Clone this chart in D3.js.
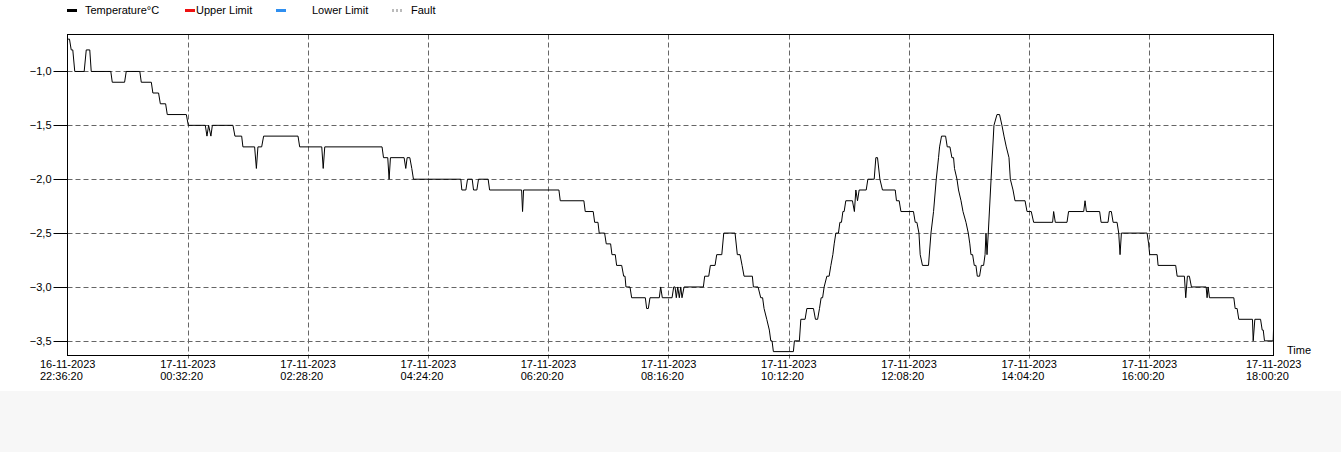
<!DOCTYPE html>
<html>
<head>
<meta charset="utf-8">
<script src="https://cdn.jsdelivr.net/npm/d3@7"></script>
<style>
  html, body { margin: 0; padding: 0; background: #ffffff; }
  svg { display: block; }
  text { font-family: "Liberation Sans", Arial, sans-serif; font-size: 11px; fill: #000; }
</style>
</head>
<body>
<svg id="chart" width="1341" height="452"></svg>
<script>
// ---------------- data ----------------
const startTime = "2023-11-16T22:36:20";
const endTime   = "2023-11-17T18:00:20";

// minutes elapsed since startTime
const elapsedMin = [
  0, 1.9, 3.6, 5.1, 7.0, 16.1, 18.1, 21.5, 22.9, 41.8, 43.2, 55.1, 56.7, 69.8, 71.2, 80.9,
  82.4, 87.9, 89.6, 94.7, 96.3, 114.7, 116.6, 133.0, 134.6, 136.2, 138.4, 139.8, 159.7, 161.6,
  168.1, 169.3, 180.6, 182.3, 183.8, 187.4, 189.3, 222.5, 224.1, 245.4, 246.8, 248.3, 303.6,
  305.0, 309.1, 310.4, 311.7, 324.9, 326.5, 327.8, 330.4, 332.3, 333.9, 379.6, 380.6, 384.5,
  386.1, 390.6, 391.9, 395.1, 396.7, 406.0, 407.4, 438.3, 439.2, 440.2, 474.3, 475.6, 498.4,
  499.7, 507.4, 508.8, 512.0, 513.2, 518.4, 520.0, 524.2, 525.5, 528.7, 530.0, 534.9, 536.8,
  538.1, 539.0, 542.9, 544.5, 557.7, 559.0, 560.6, 562.2, 571.2, 572.5, 574.1, 583.5, 585.1,
  586.4, 587.6, 589.0, 590.5, 591.9, 593.1, 595.1, 613.7, 615.0, 618.9, 620.5, 625.0, 626.6,
  631.5, 633.4, 644.3, 646.5, 649.1, 651.1, 653.0, 661.0, 662.0, 666.5, 669.1, 670.9, 672.3,
  674.9, 677.4, 678.8, 680.0, 681.3, 700.6, 701.6, 706.4, 707.8, 711.9, 713.6, 720.0, 721.9,
  724.0, 725.8, 727.4, 728.8, 730.3, 732.9, 735.1, 736.8, 738.7, 740.0, 741.6, 744.1, 745.5,
  747.0, 748.4, 749.6, 751.2, 757.6, 759.5, 760.9, 762.5, 764.1, 770.9, 772.5, 778.6, 780.2,
  781.8, 784.1, 786.6, 798.9, 800.1, 802.7, 804.4, 816.5, 818.2, 819.8, 821.8, 823.0, 825.2,
  831.0, 833.4, 835.9, 838.5, 840.7, 841.7, 843.6, 847.5, 849.1, 851.7, 853.6, 855.2, 856.1,
  858.5, 860.0, 862.4, 864.3, 867.2, 869.4, 870.9, 872.0, 873.6, 875.2, 876.8, 878.1, 880.3,
  882.0, 884.2, 885.6, 886.5, 887.5, 888.7, 891.4, 894.2, 897.1, 899.6, 901.9, 903.9, 906.1,
  908.7, 910.0, 912.6, 914.5, 924.2, 926.1, 930.2, 932.5, 950.8, 951.8, 953.4, 964.7, 966.2,
  980.8, 982.1, 983.4, 996.2, 997.6, 1004.3, 1005.6, 1007.5, 1009.2, 1013.0, 1014.6, 1015.9,
  1017.2, 1042.0, 1043.5, 1044.5, 1051.7, 1052.6, 1069.6, 1071.0, 1078.0, 1079.3, 1080.9,
  1082.8, 1084.8, 1099.0, 1099.9, 1100.9, 1102.2, 1125.7, 1127.0, 1128.9, 1130.5, 1143.7,
  1144.4, 1146.0, 1151.5, 1153.1, 1154.1, 1155.3, 1163.7, 1164.0
];

const tempC = [
  -0.7, -0.7, -0.8, -0.8, -1.0, -1.0, -0.8, -0.8, -1.0, -1.0, -1.1, -1.1, -1.0, -1.0, -1.1, -1.1,
  -1.2, -1.2, -1.3, -1.3, -1.4, -1.4, -1.5, -1.5, -1.6, -1.5, -1.6, -1.5, -1.5, -1.6,
  -1.6, -1.7, -1.7, -1.9, -1.7, -1.7, -1.6, -1.6, -1.7, -1.7, -1.9, -1.7, -1.7,
  -1.8, -1.8, -2.0, -1.8, -1.8, -1.9, -1.8, -1.8, -1.9, -2.0, -2.0, -2.1, -2.1,
  -2.0, -2.0, -2.1, -2.1, -2.0, -2.0, -2.1, -2.1, -2.3, -2.1, -2.1, -2.2, -2.2,
  -2.3, -2.3, -2.4, -2.4, -2.5, -2.5, -2.6, -2.6, -2.7, -2.7, -2.8, -2.8, -2.9,
  -2.9, -3.0, -3.0, -3.1, -3.1, -3.2, -3.2, -3.1, -3.1, -3.0, -3.1, -3.1, -3.0,
  -3.0, -3.1, -3.0, -3.1, -3.0, -3.1, -3.0, -3.0, -2.9, -2.9, -2.8, -2.8, -2.7,
  -2.7, -2.5, -2.5, -2.7, -2.7, -2.8, -2.9, -2.9, -3.0, -3.0, -3.1, -3.1, -3.2,
  -3.3, -3.4, -3.5, -3.5, -3.6, -3.6, -3.5, -3.5, -3.3, -3.3, -3.2, -3.2, -3.3,
  -3.3, -3.2, -3.1, -3.1, -3.0, -2.9, -2.9, -2.8, -2.7, -2.6, -2.5, -2.5, -2.4,
  -2.4, -2.3, -2.3, -2.2, -2.2, -2.3, -2.1, -2.2, -2.1, -2.1, -2.0, -2.0, -1.8,
  -1.8, -2.0, -2.1, -2.1, -2.2, -2.2, -2.3, -2.3, -2.4, -2.4, -2.5, -2.7, -2.8,
  -2.8, -2.5, -2.3, -2.0, -1.8, -1.7, -1.6, -1.6, -1.7, -1.7, -1.8, -1.8, -1.9,
  -2.0, -2.1, -2.2, -2.3, -2.4, -2.5, -2.6, -2.7, -2.7, -2.8, -2.8, -2.9, -2.9,
  -2.8, -2.8, -2.7, -2.5, -2.7, -2.5, -2.0, -1.5, -1.4, -1.4, -1.5, -1.6, -1.7,
  -1.8, -2.0, -2.1, -2.2, -2.2, -2.3, -2.3, -2.4, -2.4, -2.3, -2.4, -2.4, -2.3,
  -2.3, -2.2, -2.3, -2.3, -2.4, -2.4, -2.3, -2.3, -2.4, -2.4, -2.5, -2.7,
  -2.5, -2.5, -2.6, -2.7, -2.7, -2.8, -2.8, -2.9, -2.9, -3.1, -2.9,
  -2.9, -3.0, -3.0, -3.1, -3.0, -3.1, -3.1, -3.2, -3.2, -3.3, -3.3,
  -3.5, -3.3, -3.3, -3.4, -3.4, -3.5, -3.5, -3.4
];

const yTicks = [-1.0, -1.5, -2.0, -2.5, -3.0, -3.5];
const xTickTimes = [
  "2023-11-16T22:36:20", "2023-11-17T00:32:20", "2023-11-17T02:28:20", "2023-11-17T04:24:20",
  "2023-11-17T06:20:20", "2023-11-17T08:16:20", "2023-11-17T10:12:20", "2023-11-17T12:08:20",
  "2023-11-17T14:04:20", "2023-11-17T16:00:20", "2023-11-17T18:00:20"
];
const yDomain = [-3.636, -0.657];

const legendItems = ["Temperature°C", "Upper Limit", "Lower Limit", "Fault"];
const legendColors = ["#000000", "#ee1111", "#2f8ff0", "#bbbbbb"];

// ---------------- chart ----------------
const parse = d3.timeParse("%Y-%m-%dT%H:%M:%S");
const t0 = parse(startTime), t1 = parse(endTime);
const data = elapsedMin.map((m, i) => ({ t: new Date(t0.getTime() + m * 60000), v: tempC[i] }));

const plotL = 67.5, plotR = 1273.5, plotT = 34.5, plotB = 355.5;
const svg = d3.select("#chart");

// grey band at the bottom of the page
svg.append("rect").attr("x", 0).attr("y", 391).attr("width", 1341).attr("height", 61).attr("fill", "#f7f7f7");

const x = d3.scaleTime().domain([t0, t1]).range([plotL, plotR]);
const y = d3.scaleLinear().domain(yDomain).range([plotB, plotT]);

const xTicks = xTickTimes.map(parse);

// grid
const grid = svg.append("g").attr("stroke", "#666").attr("stroke-width", 1).attr("stroke-dasharray", "5,3").attr("fill", "none");
grid.selectAll(".hg").data(yTicks).join("line")
  .attr("x1", plotL).attr("x2", plotR)
  .attr("y1", d => Math.round(y(d)) + 0.5).attr("y2", d => Math.round(y(d)) + 0.5);
grid.selectAll(".vg").data(xTicks.slice(1, -1)).join("line")
  .attr("x1", d => Math.round(x(d)) + 0.5).attr("x2", d => Math.round(x(d)) + 0.5)
  .attr("y1", plotT).attr("y2", plotB + 3);

// y axis
const yAxis = d3.axisLeft(y).tickValues(yTicks).tickSize(14).tickPadding(2)
  .tickFormat(d => d3.format(".1f")(d).replace(".", ","));
const gy = svg.append("g").attr("transform", `translate(${plotL},0)`).call(yAxis);
gy.select(".domain").remove();
gy.selectAll(".tick").attr("transform", d => `translate(0,${Math.round(y(d)) + 0.5})`);
gy.selectAll(".tick line").attr("stroke", "#000");
gy.selectAll(".tick text").attr("font-family", null).attr("font-size", null).attr("fill", "#000");

// x axis
const gx = svg.append("g").attr("transform", `translate(0,${plotB})`)
  .call(d3.axisBottom(x).tickValues(xTicks).tickSize(0).tickFormat(""));
gx.select(".domain").remove();
const fDate = d3.timeFormat("%d-%m-%Y"), fTime = d3.timeFormat("%H:%M:%S");
gx.selectAll(".tick text").remove();
gx.selectAll(".tick").each(function (d) {
  const t = d3.select(this).append("text").attr("text-anchor", "start").attr("fill", "#000");
  t.append("tspan").attr("x", -28).attr("y", 12).text(fDate(d));
  t.append("tspan").attr("x", -28).attr("y", 24).text(fTime(d));
});

// frame
svg.append("rect").attr("x", plotL).attr("y", plotT).attr("width", plotR - plotL).attr("height", plotB - plotT)
  .attr("fill", "none").attr("stroke", "#000").attr("stroke-width", 1);

// line
svg.append("path").datum(data)
  .attr("fill", "none").attr("stroke", "#000").attr("stroke-width", 1)
  .attr("d", d3.line().x(d => x(d.t)).y(d => y(d.v)));

// axis title
svg.append("text").attr("x", 1287).attr("y", 354).text("Time");

// legend
const legendX = [67, 185, 276, 392];
const legendTextX = [85, 196, 312, 411];
const lg = svg.append("g");
legendItems.forEach((name, i) => {
  lg.append("line").attr("x1", legendX[i]).attr("x2", legendX[i] + 10)
    .attr("y1", 10.5).attr("y2", 10.5)
    .attr("stroke", legendColors[i]).attr("stroke-width", 3)
    .attr("stroke-dasharray", i === 3 ? "2,2" : null);
  lg.append("text").attr("x", legendTextX[i]).attr("y", 14).text(name);
});
</script>
</body>
</html>
